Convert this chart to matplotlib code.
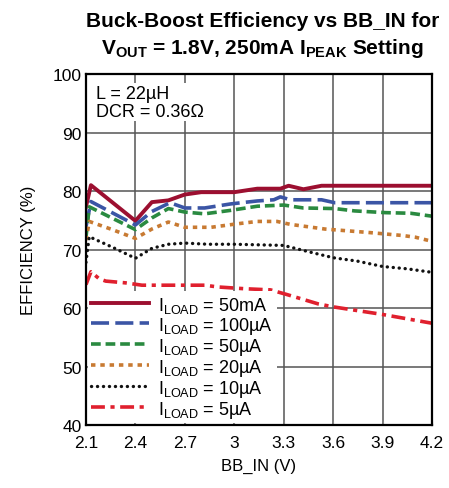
import numpy as np
import matplotlib
matplotlib.use("Agg")
import matplotlib.pyplot as plt
from matplotlib import font_manager

# pick a narrow font if we have one
names = set(f.name for f in font_manager.fontManager.ttflist)
narrow = "Liberation Sans Narrow" if "Liberation Sans Narrow" in names else "Liberation Sans"

plt.rcParams['font.family'] = [narrow, 'DejaVu Sans']
plt.rcParams['mathtext.fontset'] = 'custom'
plt.rcParams['mathtext.rm'] = narrow
plt.rcParams['mathtext.bf'] = narrow + ':bold'
plt.rcParams['lines.scale_dashes'] = False

# data
x_50mA = [2.1, 2.13, 2.4, 2.5, 2.6, 2.7, 2.8, 3.0, 3.14, 3.28, 3.33, 3.42, 3.53, 4.2]
y_50mA = [77.3, 81.0, 74.9, 78.1, 78.4, 79.4, 79.8, 79.8, 80.4, 80.4, 80.9, 80.3, 80.9, 80.9]

x_100uA = [2.1, 2.13, 2.4, 2.5, 2.61, 2.7, 2.82, 2.98, 3.14, 3.24, 3.28, 3.34, 3.53, 3.61, 4.2]
y_100uA = [73.9, 78.2, 74.2, 76.5, 78.0, 77.1, 77.1, 77.8, 78.3, 78.5, 79.0, 78.5, 78.5, 78.0, 78.0]

x_50uA = [2.1, 2.12, 2.4, 2.5, 2.6, 2.7, 2.82, 2.98, 3.14, 3.3, 3.42, 3.61, 3.73, 3.92, 4.07, 4.2]
y_50uA = [72.1, 77.3, 73.4, 75.4, 77.0, 76.4, 76.1, 76.7, 77.4, 77.6, 77.1, 77.0, 76.6, 76.3, 76.2, 75.7]

x_20uA = [2.1, 2.12, 2.26, 2.4, 2.5, 2.6, 2.7, 2.86, 3.02, 3.14, 3.26, 3.34, 3.55, 3.82, 4.02, 4.1, 4.2]
y_20uA = [71.6, 74.8, 73.4, 71.9, 73.5, 74.7, 73.8, 73.8, 74.4, 74.8, 74.8, 74.3, 73.5, 72.9, 72.4, 72.1, 71.4]

x_10uA = [2.1, 2.11, 2.12, 2.15, 2.26, 2.4, 2.5, 2.6, 2.7, 2.84, 3.0, 3.3, 3.44, 3.6, 3.75, 3.9, 4.05, 4.2]
y_10uA = [67.8, 70.1, 72.2, 71.8, 70.4, 68.5, 70.2, 70.9, 71.1, 70.9, 70.9, 70.7, 69.7, 68.6, 68.0, 67.1, 66.7, 66.1]

x_5uA = [2.1, 2.13, 2.18, 2.22, 2.34, 2.44, 2.82, 2.9, 3.06, 3.22, 3.32, 3.51, 3.6, 3.9, 4.2]
y_5uA = [64.0, 66.2, 65.0, 64.6, 64.3, 63.9, 63.9, 63.6, 63.3, 63.1, 62.3, 60.7, 60.2, 58.9, 57.4]

x_ticks = [2.1, 2.4, 2.7, 3.0, 3.3, 3.6, 3.9, 4.2]
x_ticklabels = ["2.1", "2.4", "2.7", "3", "3.3", "3.6", "3.9", "4.2"]
y_ticks = [40, 50, 60, 70, 80, 90, 100]

fig = plt.figure(figsize=(4.49, 4.89), dpi=100)
ax = fig.add_axes([0.1915, 0.1288, 0.7705, 0.7178])

lw = 2.6
ax.plot(x_50mA, y_50mA, color="#9c0f30", lw=2.8, label=r"$\mathrm{I_{LOAD}}$ = 50mA")
ax.plot(x_100uA, y_100uA, color="#3b55a5", lw=lw, dashes=(13, 4.5), label=r"$\mathrm{I_{LOAD}}$ = 100µA")
ax.plot(x_50uA, y_50uA, color="#2a8a40", lw=lw, dashes=(7, 3.5), label=r"$\mathrm{I_{LOAD}}$ = 50µA")
ax.plot(x_20uA, y_20uA, color="#c87a32", lw=lw, dashes=(3.2, 3.5), label=r"$\mathrm{I_{LOAD}}$ = 20µA")
ax.plot(x_10uA, y_10uA, color="#111111", lw=2.4, dashes=(0.1, 4.2), dash_capstyle="round",
        label=r"$\mathrm{I_{LOAD}}$ = 10µA")
ax.plot(x_5uA, y_5uA, color="#e0202e", lw=lw, dashes=(10, 4, 3, 4), label=r"$\mathrm{I_{LOAD}}$ = 5µA")

ax.set_xlim(2.1, 4.2)
ax.set_ylim(40, 100)
ax.set_xticks(x_ticks)
ax.set_xticklabels(x_ticklabels)
ax.set_yticks(y_ticks)
ax.tick_params(labelsize=12.5, direction="in", length=3, color="#888888", pad=3)
ax.tick_params(axis="x", pad=7)
ax.grid(True, color="#555555", lw=1.1)
ax.set_axisbelow(True)
for s in ax.spines.values():
    s.set_linewidth(1.6)

ax.set_xlabel("BB_IN (V)", fontsize=12, labelpad=6)
ax.set_ylabel("EFFICIENCY (%)", fontsize=12, labelpad=12)

ax.text(0.03, 0.97, "L = 22µH\nDCR = 0.36Ω", transform=ax.transAxes, fontsize=13,
        va="top", ha="left", linespacing=1.1,
        bbox=dict(facecolor="white", edgecolor="none", pad=1))

leg = ax.legend(loc="lower left", fontsize=13, frameon=True, fancybox=False,
                framealpha=1, edgecolor="none", handlelength=3.2,
                labelspacing=0.0, borderpad=0.2, borderaxespad=0.1, handletextpad=0.5)

fig.text(0.585, 0.975, "Buck-Boost Efficiency vs BB_IN for", fontsize=15, fontweight="bold",
         ha="center", va="top")
fig.text(0.585, 0.925, r"$\mathbf{V_{OUT}}$ = 1.8V, 250mA $\mathbf{I_{PEAK}}$ Setting", fontsize=15,
         fontweight="bold", ha="center", va="top")

fig.savefig("out.png", dpi=100)
